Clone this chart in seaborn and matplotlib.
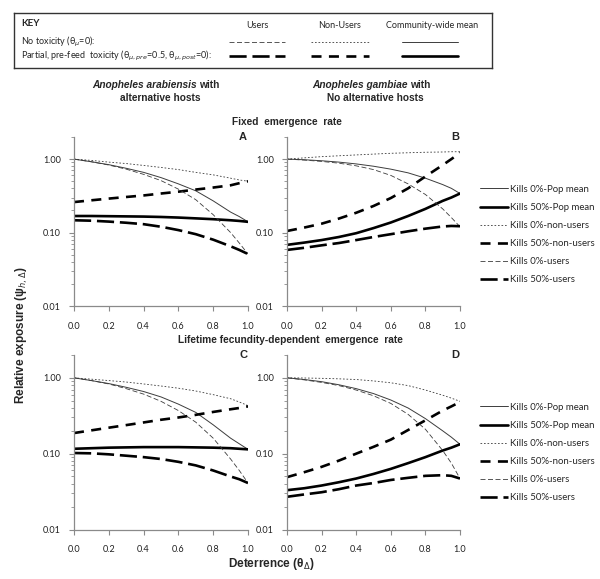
#Relative exposure vs deterrence for users / non-users / community mean
#Four panels (A-D) with a key box on top

import pandas as pd
import numpy as np
from matplotlib import pyplot as plt
from matplotlib.lines import Line2D
from matplotlib.ticker import LogLocator, NullFormatter
import seaborn as sns

sns.set_style("white")
plt.rcParams['font.family'] = ['Lato', 'DejaVu Sans']
plt.rcParams['mathtext.fontset'] = 'dejavusans'

#deterrence values (x axis)
x_det = [0.0, 0.1, 0.2, 0.3, 0.4, 0.5, 0.6, 0.7, 0.8, 0.9, 0.95, 1.0]

#panel A: An. arabiensis, fixed emergence
A_pop0 = [1.0, 0.92, 0.84, 0.75, 0.66, 0.56, 0.46, 0.37, 0.27, 0.19, 0.165, 0.14]
A_pop50 = [0.168, 0.168, 0.167, 0.166, 0.165, 0.163, 0.16, 0.156, 0.152, 0.147, 0.144, 0.14]
A_non0 = [1.0, 0.96, 0.91, 0.87, 0.82, 0.77, 0.72, 0.66, 0.61, 0.55, 0.52, 0.50]
A_non50 = [0.26, 0.275, 0.29, 0.305, 0.32, 0.34, 0.36, 0.385, 0.41, 0.44, 0.47, 0.50]
A_users0 = [1.0, 0.92, 0.83, 0.73, 0.62, 0.51, 0.39, 0.28, 0.175, 0.10, 0.072, 0.051]
A_users50 = [0.147, 0.145, 0.141, 0.136, 0.13, 0.12, 0.108, 0.095, 0.08, 0.065, 0.058, 0.051]

#panel B: An. gambiae, fixed emergence
B_pop0 = [1.0, 0.98, 0.95, 0.91, 0.86, 0.80, 0.73, 0.65, 0.55, 0.45, 0.40, 0.34]
B_pop50 = [0.068, 0.073, 0.079, 0.087, 0.098, 0.115, 0.137, 0.168, 0.21, 0.27, 0.30, 0.34]
B_non0 = [1.0, 1.04, 1.08, 1.11, 1.14, 1.17, 1.2, 1.22, 1.24, 1.25, 1.26, 1.26]
B_non50 = [0.105, 0.117, 0.132, 0.155, 0.186, 0.23, 0.295, 0.40, 0.58, 0.83, 1.0, 1.22]
B_users0 = [1.0, 0.97, 0.93, 0.88, 0.81, 0.72, 0.60, 0.46, 0.33, 0.21, 0.16, 0.12]
B_users50 = [0.058, 0.062, 0.067, 0.072, 0.079, 0.087, 0.095, 0.104, 0.113, 0.121, 0.123, 0.122]

#panel C: An. arabiensis, fecundity-dependent emergence
C_pop0 = [1.0, 0.92, 0.84, 0.75, 0.66, 0.56, 0.45, 0.35, 0.24, 0.16, 0.135, 0.114]
C_pop50 = [0.116, 0.118, 0.12, 0.121, 0.122, 0.122, 0.122, 0.121, 0.12, 0.118, 0.116, 0.114]
C_non0 = [1.0, 0.96, 0.92, 0.88, 0.83, 0.78, 0.73, 0.67, 0.60, 0.53, 0.48, 0.43]
C_non50 = [0.187, 0.203, 0.22, 0.238, 0.258, 0.28, 0.30, 0.325, 0.355, 0.385, 0.40, 0.42]
C_users0 = [1.0, 0.92, 0.83, 0.72, 0.61, 0.49, 0.37, 0.26, 0.16, 0.085, 0.06, 0.041]
C_users50 = [0.102, 0.101, 0.098, 0.094, 0.09, 0.085, 0.078, 0.07, 0.06, 0.05, 0.046, 0.041]

#panel D: An. gambiae, fecundity-dependent emergence
D_pop0 = [1.0, 0.95, 0.89, 0.81, 0.72, 0.62, 0.51, 0.40, 0.29, 0.20, 0.165, 0.133]
D_pop50 = [0.033, 0.035, 0.038, 0.042, 0.047, 0.054, 0.063, 0.075, 0.09, 0.11, 0.12, 0.133]
D_non0 = [1.0, 0.995, 0.985, 0.97, 0.95, 0.91, 0.86, 0.79, 0.69, 0.59, 0.54, 0.49]
D_non50 = [0.049, 0.057, 0.067, 0.081, 0.10, 0.123, 0.153, 0.205, 0.275, 0.37, 0.42, 0.48]
D_users0 = [1.0, 0.94, 0.87, 0.79, 0.69, 0.58, 0.46, 0.33, 0.21, 0.11, 0.075, 0.047]
D_users50 = [0.027, 0.029, 0.031, 0.034, 0.038, 0.041, 0.045, 0.048, 0.051, 0.052, 0.051, 0.047]

series_names = ['Kills 0%-Pop mean', 'Kills 50%-Pop mean', 'Kills 0%-non-users',
                'Kills 50%-non-users', 'Kills 0%-users', 'Kills 50%-users']

panels = {
    'A': [A_pop0, A_pop50, A_non0, A_non50, A_users0, A_users50],
    'B': [B_pop0, B_pop50, B_non0, B_non50, B_users0, B_users50],
    'C': [C_pop0, C_pop50, C_non0, C_non50, C_users0, C_users50],
    'D': [D_pop0, D_pop50, D_non0, D_non50, D_users0, D_users50],
}

#line styles for each series
thin_col = '#3c3c3c'
styles = {
    'Kills 0%-Pop mean': dict(color=thin_col, linewidth=0.7, linestyle='-'),
    'Kills 50%-Pop mean': dict(color='black', linewidth=1.9, linestyle='-'),
    'Kills 0%-non-users': dict(color=thin_col, linewidth=0.6, linestyle=(0, (2, 2.2))),
    'Kills 50%-non-users': dict(color='black', linewidth=1.9, linestyle=(0, (3.8, 2.8))),
    'Kills 0%-users': dict(color=thin_col, linewidth=0.6, linestyle=(0, (6, 3))),
    'Kills 50%-users': dict(color='black', linewidth=1.9, linestyle=(0, (6.5, 2.2))),
}

W, H = 600, 579
fig = plt.figure(figsize=(6, 5.79), dpi=100)

def fx(px):
    return px / W

def fy(py):
    return 1 - py / H

#axes positions in pixels (left, right, top, bottom)
boxes = {
    'A': (74, 248, 137, 306),
    'B': (287, 460, 137, 306),
    'C': (74, 248, 355, 529.5),
    'D': (287, 460, 355, 529.5),
}

axes = {}
for key, (l, r, t, b) in boxes.items():
    ax = fig.add_axes([fx(l), fy(b), fx(r - l), (b - t) / H])
    for name, vals in zip(series_names, panels[key]):
        sns.lineplot(x=x_det, y=vals, ax=ax, **styles[name])
    ax.set_yscale('log')
    ax.set_ylim(0.01, 2.0)
    ax.set_xlim(0, 1.0)
    ax.set_xticks([0, 0.2, 0.4, 0.6, 0.8, 1.0])
    ax.set_xticklabels(['0.0', '0.2', '0.4', '0.6', '0.8', '1.0'])
    ax.set_yticks([0.01, 0.1, 1.0])
    ax.set_yticklabels(['0.01', '0.10', '1.00'])
    ax.yaxis.set_minor_locator(LogLocator(base=10, subs=np.arange(2, 10)))
    ax.yaxis.set_minor_formatter(NullFormatter())
    for s in ['top', 'right']:
        ax.spines[s].set_visible(False)
    for s in ['left', 'bottom']:
        ax.spines[s].set_color('#8a8a8a')
        ax.spines[s].set_linewidth(0.9)
    ax.tick_params(axis='both', which='major', direction='out', length=3.5, width=0.8,
                   color='#8a8a8a', labelsize=6.6, labelcolor='#222222', pad=6,
                   left=True, bottom=True)
    ax.tick_params(axis='y', which='minor', direction='out', length=2, width=0.6,
                   color='#8a8a8a', left=True)
    ax.tick_params(axis='x', which='major', pad=8)
    ax.set_xlabel('')
    ax.set_ylabel('')
    ax.text(0.995, 1.0, key, transform=ax.transAxes, ha='right', va='center',
            fontsize=8, fontweight='bold', family='Liberation Sans')
    axes[key] = ax

#legends to the right of panels B and D
handles = [Line2D([], [], **styles[n]) for n in series_names]
for key, ytop in [('B', 181), ('D', 399)]:
    axes[key].legend(handles, series_names, loc='upper left',
                     bbox_to_anchor=(fx(476), fy(ytop)), bbox_transform=fig.transFigure,
                     frameon=False, fontsize=6.9, handlelength=2.9, handletextpad=0.2,
                     labelspacing=0.95, borderaxespad=0)

#key box at the top
kax = fig.add_axes([fx(14), fy(68), fx(492 - 14), (68 - 13) / H])
kax.set_xlim(14, 492)
kax.set_ylim(68, 13)
kax.set_xticks([])
kax.set_yticks([])
for s in kax.spines.values():
    s.set_visible(True)
    s.set_color('#333333')
    s.set_linewidth(1.0)

kax.text(21, 23, 'KEY', fontsize=7, fontweight='bold', va='center')
kax.text(21, 42, r'No toxicity (θ$_{\mu}$=0):', fontsize=6.5, va='center')
kax.text(21, 56, r'Partial, pre-feed  toxicity (θ$_{\mu,pre}$=0.5, θ$_{\mu,post}$=0):',
         fontsize=6.5, va='center')
kax.text(257, 25, 'Users', fontsize=6.5, ha='center', va='center')
kax.text(340, 25, 'Non-Users', fontsize=6.5, ha='center', va='center')
kax.text(432, 25, 'Community-wide mean', fontsize=6.5, ha='center', va='center')

key_cols = [(229, 285, 'Kills 0%-users', 'Kills 50%-users'),
            (311, 369, 'Kills 0%-non-users', 'Kills 50%-non-users'),
            (402, 458, 'Kills 0%-Pop mean', 'Kills 50%-Pop mean')]
for x0, x1, s0, s50 in key_cols:
    kax.plot([x0, x1], [42, 42], **styles[s0])
    kax.plot([x0, x1], [56, 56], **styles[s50])

#column and row titles
tkw = dict(fontsize=7.3, fontweight='bold', family='Liberation Sans', va='center')
fig.text(fx(197), fy(85), 'Anopheles arabiensis', ha='right', style='italic', **tkw)
fig.text(fx(199), fy(85), 'with', ha='left', **tkw)
fig.text(fx(160), fy(98), 'alternative hosts', ha='center', **tkw)
fig.text(fx(408), fy(85), 'Anopheles gambiae', ha='right', style='italic', **tkw)
fig.text(fx(410), fy(85), 'with', ha='left', **tkw)
fig.text(fx(375), fy(98), 'No alternative hosts', ha='center', **tkw)
fig.text(fx(287), fy(122), 'Fixed  emergence  rate', ha='center', **tkw)
fig.text(fx(290), fy(340), 'Lifetime fecundity-dependent  emergence  rate', ha='center', **tkw)
fig.text(fx(271), fy(564), r'Deterrence (θ$_{\Delta}$)', ha='center', fontsize=8.5,
         fontweight='bold', family='Liberation Sans', va='center')
fig.text(fx(22), fy(335), r'Relative exposure (ψ$_{h,\Delta}$)', ha='center', va='center',
         rotation=90, fontsize=8.5, fontweight='bold', family='Liberation Sans')

fig.savefig('out.png', dpi=100)
